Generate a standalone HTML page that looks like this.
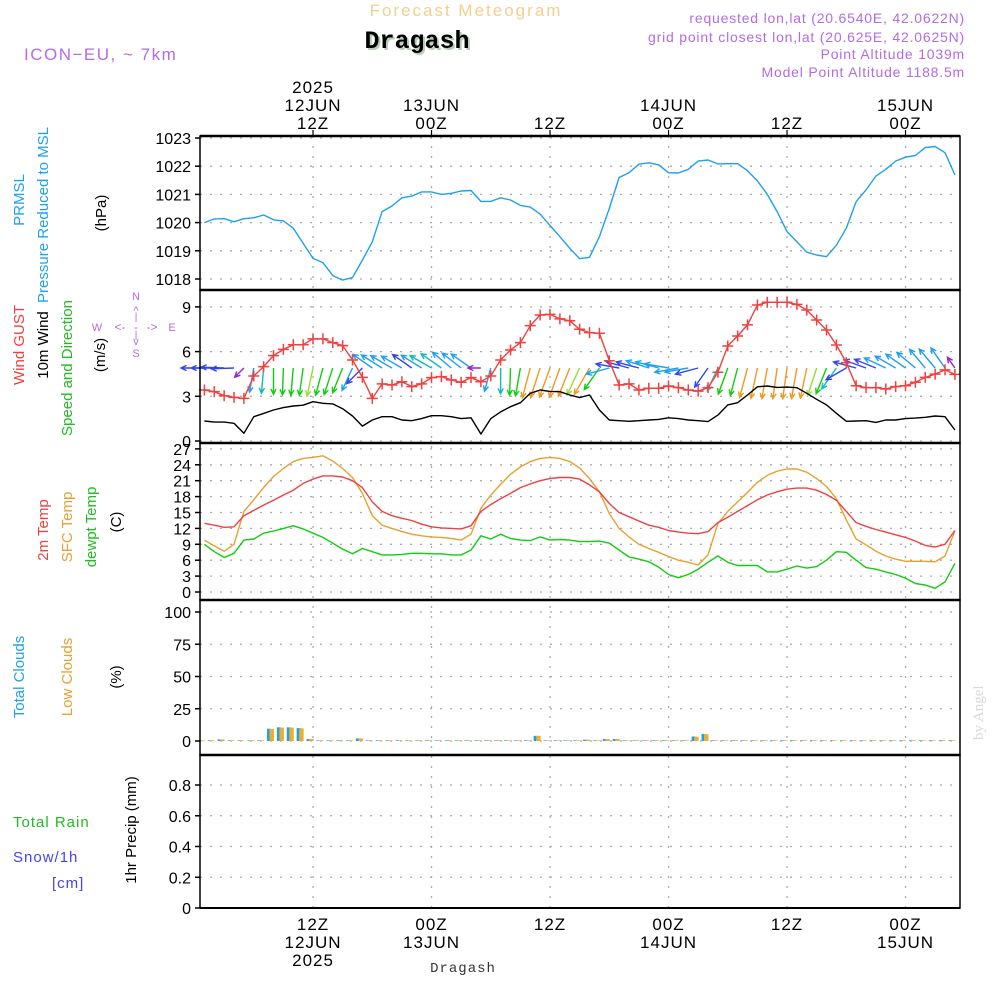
<!DOCTYPE html>
<html><head><meta charset="utf-8"><title>Meteogram Dragash</title>
<style>
html,body{margin:0;padding:0;background:#fff;}
svg{display:block;font-family:"Liberation Sans",sans-serif;}
</style></head>
<body>
<svg id="chart" width="1000" height="1000" viewBox="0 0 1000 1000" xmlns="http://www.w3.org/2000/svg">
<rect x="0" y="0" width="1000" height="1000" fill="#fff"/>
<text x="466" y="16" text-anchor="middle" font-size="17" fill="#f3cf8f" letter-spacing="2">Forecast Meteogram</text>
<text x="419" y="50" text-anchor="middle" font-size="25" font-weight="bold" fill="#b8ccb8" font-family="Liberation Mono, monospace">Dragash</text>
<text x="417" y="48" text-anchor="middle" font-size="25" font-weight="bold" fill="#000" font-family="Liberation Mono, monospace">Dragash</text>
<text x="24" y="60" font-size="17" fill="#b36be6" letter-spacing="1.5">ICON−EU, ~ 7km</text>
<g font-size="14" fill="#b36be6" text-anchor="end" letter-spacing="0.8">
<text x="965" y="23">requested lon,lat (20.6540E, 42.0622N)</text>
<text x="965" y="42">grid point closest lon,lat (20.625E, 42.0625N)</text>
<text x="965" y="59">Point Altitude 1039m</text>
<text x="965" y="77">Model Point Altitude 1188.5m</text>
</g>
<text transform="translate(983,740) rotate(-90)" font-size="15" fill="#d8d8d8" font-family="Liberation Serif, serif">by Angel</text>
<g id="grid"></g>
<g id="marks"></g>
<g id="axes"></g>
<g id="labels" font-size="15">
<text transform="translate(24,200) rotate(-90)" text-anchor="middle" fill="#1ea0f0">PRMSL</text>
<text transform="translate(48,215) rotate(-90)" text-anchor="middle" fill="#1ea0f0">Pressure Reduced to MSL</text>
<text transform="translate(106,213) rotate(-90)" text-anchor="middle" fill="#000">(hPa)</text>
<text transform="translate(24,345) rotate(-90)" text-anchor="middle" fill="#f04040">Wind GUST</text>
<text transform="translate(48,345) rotate(-90)" text-anchor="middle" fill="#000">10m Wind</text>
<text transform="translate(72,368) rotate(-90)" text-anchor="middle" fill="#22bb22">Speed and Direction</text>
<text transform="translate(105,355) rotate(-90)" text-anchor="middle" fill="#000">(m/s)</text>
<g fill="#b36be6" font-size="11" text-anchor="middle">
<text x="136" y="300">N</text><text x="136" y="357">S</text><text x="97" y="331">W</text><text x="172" y="331">E</text>
<text x="120" y="331" font-size="12">&lt;-</text><text x="152" y="331" font-size="12">-&gt;</text>
<text x="136" y="314" font-size="11">^</text><text x="136" y="320" font-size="10">|</text>
<text x="136" y="345" font-size="11">v</text><text x="136" y="338" font-size="10">|</text>
<text x="136" y="331" font-size="12">-</text>
</g>
<text transform="translate(48,530) rotate(-90)" text-anchor="middle" fill="#f04040">2m Temp</text>
<text transform="translate(72,527) rotate(-90)" text-anchor="middle" fill="#e8a030">SFC Temp</text>
<text transform="translate(96,527) rotate(-90)" text-anchor="middle" fill="#22bb22">dewpt Temp</text>
<text transform="translate(121,522) rotate(-90)" text-anchor="middle" fill="#000">(C)</text>
<text transform="translate(24,677) rotate(-90)" text-anchor="middle" fill="#1ea0f0">Total Clouds</text>
<text transform="translate(72,677) rotate(-90)" text-anchor="middle" fill="#e8a030">Low Clouds</text>
<text transform="translate(121,677) rotate(-90)" text-anchor="middle" fill="#000">(%)</text>
<text x="13" y="827" fill="#22bb22" letter-spacing="1">Total  Rain</text>
<text x="13" y="862" fill="#4444ee" letter-spacing="1">Snow/1h</text>
<text x="52" y="888" fill="#4444ee" letter-spacing="1">[cm]</text>
<text transform="translate(136,830) rotate(-90)" text-anchor="middle" fill="#000">1hr Precip (mm)</text>
<text x="463" y="972" text-anchor="middle" font-size="14" fill="#333" font-family="Liberation Mono, monospace" letter-spacing="1">Dragash</text>
</g>
</svg>
<script>
const pressure = [1020.0,1020.13,1020.14,1020.03,1020.14,1020.17,1020.27,1020.1,1020.06,1019.8,1019.27,1018.73,1018.58,1018.12,1017.96,1018.05,1018.67,1019.32,1020.39,1020.59,1020.88,1020.94,1021.09,1021.09,1021.0,1021.04,1021.12,1021.14,1020.75,1020.75,1020.88,1020.8,1020.61,1020.55,1020.3,1019.9,1019.5,1019.09,1018.72,1018.77,1019.5,1020.5,1021.6,1021.77,1022.07,1022.12,1022.05,1021.77,1021.76,1021.89,1022.18,1022.22,1022.08,1022.09,1022.09,1021.84,1021.48,1021.0,1020.39,1019.68,1019.32,1018.95,1018.85,1018.79,1019.2,1019.8,1020.74,1021.16,1021.65,1021.89,1022.18,1022.32,1022.38,1022.66,1022.7,1022.48,1021.69];
const wind10m = [1.34,1.27,1.27,1.19,0.52,1.63,1.85,2.08,2.24,2.35,2.40,2.64,2.53,2.49,2.17,1.68,1.0,1.41,1.63,1.63,1.41,1.36,1.5,1.7,1.7,1.63,1.5,1.56,0.47,1.5,1.95,2.3,2.57,3.2,3.42,3.33,3.31,3.09,2.91,3.09,2.08,1.41,1.36,1.32,1.36,1.41,1.45,1.56,1.5,1.41,1.36,1.3,1.74,2.42,2.57,3.09,3.64,3.69,3.6,3.62,3.58,3.2,2.8,2.42,1.86,1.32,1.34,1.36,1.25,1.41,1.41,1.5,1.54,1.59,1.68,1.63,0.74];
const windGust = [3.42,3.31,3.04,2.93,2.86,4.36,4.99,5.73,6.15,6.46,6.46,6.85,6.85,6.6,6.4,5.44,4.27,2.86,3.83,3.76,3.98,3.65,3.83,4.25,4.32,4.1,3.94,4.25,3.98,4.36,5.44,6.11,6.6,7.74,8.46,8.5,8.2,8.07,7.5,7.27,7.23,5.39,3.76,3.83,3.42,3.54,3.54,3.69,3.58,3.42,3.35,3.58,4.61,6.38,7.05,7.79,9.13,9.31,9.31,9.31,9.17,8.79,8.12,7.45,6.44,5.26,3.71,3.58,3.58,3.49,3.65,3.71,3.94,4.27,4.49,4.77,4.47];
const windDir = [90,90,92,88,45,10,5,0,2,5,8,12,15,18,22,25,45,125,122,120,120,125,122,120,125,130,128,125,90,15,0,2,10,15,18,20,20,22,25,30,35,75,100,105,105,108,105,100,80,80,75,35,25,20,15,15,12,10,8,8,10,12,18,22,35,60,105,110,112,115,120,125,130,140,140,145,145];
const temp2m = [12.96,12.6,12.2,12.3,14.4,15.4,16.4,17.3,18.3,19.2,20.5,21.3,21.9,21.9,21.7,21.0,19.7,17.0,15.2,14.4,13.9,13.5,12.8,12.3,12.1,12.0,11.9,12.5,15.2,16.5,17.6,18.6,19.7,20.4,21.0,21.4,21.6,21.6,21.3,20.2,18.9,16.7,15.0,14.2,13.4,12.6,12.2,11.6,11.3,11.1,11.0,11.4,13.1,14.1,15.2,16.3,17.4,18.3,18.9,19.4,19.6,19.6,19.2,18.4,17.3,15.2,13.1,12.4,11.8,11.3,10.8,10.3,9.6,8.8,8.5,9.0,11.6];
const tempSfc = [9.8,8.7,7.7,9.0,15.2,17.4,19.7,21.8,23.3,24.6,25.2,25.4,25.7,24.7,23.3,21.6,18.6,14.4,12.6,12.0,11.4,10.9,10.6,10.4,10.3,10.1,9.8,10.9,15.8,18.3,20.3,22.2,23.6,24.6,25.2,25.4,25.2,24.6,23.4,21.4,18.9,14.8,12.0,10.4,9.0,8.2,7.5,6.7,6.0,5.6,5.1,7.0,12.9,15.2,17.0,18.8,20.7,22.0,22.8,23.2,23.2,22.6,21.4,19.9,17.6,13.6,10.0,8.9,7.7,6.8,6.2,5.8,5.8,5.8,5.7,6.8,11.5];
const dewpoint = [9.0,7.6,6.5,7.3,9.8,10.0,11.1,11.5,12.0,12.5,11.9,11.1,10.3,9.2,8.1,7.2,8.2,7.6,7.0,7.0,7.1,7.3,7.3,7.2,7.2,7.0,7.0,7.9,10.6,10.0,10.9,10.1,9.8,9.7,10.4,9.8,9.9,9.8,9.5,9.5,9.6,9.2,7.9,6.6,6.2,5.7,4.7,3.3,2.7,3.3,4.3,5.6,6.8,5.6,5.0,5.0,5.0,3.8,3.8,4.3,4.9,4.5,4.8,6.0,7.6,7.5,6.0,4.6,4.3,3.8,3.3,2.6,1.6,1.3,0.7,1.9,5.4];
const cloudTotal = [0.5,0.5,1.2,0.5,0.5,0.5,0.5,9.5,10.6,10.6,10,1.5,0.5,0.5,0.5,0.5,2,0.5,0.5,0.5,0.5,0.5,0.5,0.5,0.5,0.5,0.5,0.5,0.5,0.5,0.5,0.5,0.5,0.5,4,0.5,0.5,0.5,0.5,1,0.5,1.5,1.5,0.5,0.5,0.5,0.5,0.5,0.5,0.5,3.5,5.5,0.5,0.5,0.5,0.5,0.5,0.5,0.5,0.5,0.5,0.5,0.5,0.5,0.5,0.5,0.5,0.5,0.5,0.5,0.5,0.5,0.5,0.5,0.5,0.5,0.5];
const cloudLow = [0.5,0.5,1.2,0.5,0.5,0.5,0.5,9.3,10.4,10.4,9.8,1.5,0.5,0.5,0.5,0.5,2,0.5,0.5,0.5,0.5,0.5,0.5,0.5,0.5,0.5,0.5,0.5,0.5,0.5,0.5,0.5,0.5,0.5,4,0.5,0.5,0.5,0.5,1,0.5,1.5,1.5,0.5,0.5,0.5,0.5,0.5,0.5,0.5,3.3,5.3,0.5,0.5,0.5,0.5,0.5,0.5,0.5,0.5,0.5,0.5,0.5,0.5,0.5,0.5,0.5,0.5,0.5,0.5,0.5,0.5,0.5,0.5,0.5,0.5,0.5];
const precip = new Array(77).fill(0);
const pressureTicks = [1018,1019,1020,1021,1022,1023];
const windTicks = [0,3,6,9];
const tempTicks = [0,3,6,9,12,15,18,21,24,27];
const cloudTicks = [0,25,50,75,100];
const precipTicks = [0,0.2,0.4,0.6,0.8];
const timeHours = [11,23,35,47,59,71];
const topLabels = [["2025","12JUN","12Z"],["","13JUN","00Z"],["","","12Z"],["","14JUN","00Z"],["","","12Z"],["","15JUN","00Z"]];
const bottomLabels = [["12Z","12JUN","2025"],["00Z","13JUN",""],["12Z","",""],["00Z","14JUN",""],["12Z","",""],["00Z","15JUN",""]];

const NS = "http://www.w3.org/2000/svg";
const X0 = 200, X1 = 960;
const xAt = i => 204.4 + 9.875 * i;
const yP = v => 279 - (v - 1018) * 28.2;
const yW = v => 441 - v * 14.9;
const yT = v => 592 - v * 5.3;
const yC = v => 741 - v * 1.29;
const yR = v => 908 - v * 153.75;
const panels = [[136,290],[290,443],[443,600],[600,755],[755,908]];

function mk(parent, tag, attrs, txt) {
  const e = document.createElementNS(NS, tag);
  for (const k in attrs) e.setAttribute(k, attrs[k]);
  if (txt !== undefined) e.textContent = txt;
  document.getElementById(parent).appendChild(e);
  return e;
}
let el;

const gridStyle = {stroke:"#aaa", "stroke-width":1.3, "stroke-dasharray":"2 8"};
timeHours.forEach(h => {
  el = mk("grid","line",Object.assign({x1:xAt(h),x2:xAt(h),y1:136,y2:908},gridStyle));
  
  
});
function hgrid(ticks, yf, fmt) {
  ticks.forEach(t => {
    el = mk("grid","line",Object.assign({x1:X0,x2:X1,y1:yf(t),y2:yf(t)},gridStyle));
    
    
    el = mk("axes","line",{x1:X0-5,x2:X0,y1:yf(t),y2:yf(t),stroke:"#000","stroke-width":1.5});
    
    
    el = mk("axes","text",{x:X0-9,y:yf(t)+6,"text-anchor":"end","font-size":16,fill:"#000"}, fmt(t));
    
    
  });
}
hgrid(pressureTicks, yP, t => String(t));
hgrid(windTicks, yW, t => String(t));
hgrid(tempTicks, yT, t => String(t));
hgrid(cloudTicks, yC, t => String(t));
hgrid(precipTicks, yR, t => t === 0 ? "0" : t.toFixed(1));

panels.forEach(p => {
  el = mk("axes","rect",{x:X0,y:p[0],width:X1-X0,height:p[1]-p[0],fill:"none",stroke:"#000","stroke-width":1.5});
  
  
  el = mk("axes","line",{x1:X0,x2:X1,y1:p[0],y2:p[0],stroke:"#000","stroke-width":2.5});
  
  
});
el = mk("axes","line",{x1:X0,x2:X1,y1:908,y2:908,stroke:"#000","stroke-width":2});


timeHours.forEach((h, k) => {
  el = mk("axes","line",{x1:xAt(h),x2:xAt(h),y1:130,y2:136,stroke:"#000","stroke-width":1.2});
  
  
  topLabels[k].forEach((s, j) => {
    if (!s) return;
    el = mk("axes","text",{x:xAt(h),y:93+j*18,"text-anchor":"middle","font-size":17,fill:"#000","letter-spacing":"1"}, s);
    
    
  });
  bottomLabels[k].forEach((s, j) => {
    if (!s) return;
    el = mk("axes","text",{x:xAt(h),y:930+j*18,"text-anchor":"middle","font-size":17,fill:"#000","letter-spacing":"1"}, s);
    
    
  });
});

function line(arr, yf, color, w) {
  const pts = arr.map((v,i) => xAt(i).toFixed(1)+","+yf(v).toFixed(1)).join(" ");
  return mk("marks","polyline",{points:pts,fill:"none",stroke:color,"stroke-width":w||1.4,"stroke-linejoin":"round"});
}
el = line(pressure, yP, "#1ea0f0");



cloudTotal.forEach((v,i) => {
  const cx = xAt(i) - 3;
  el = mk("marks","rect",{x:cx-3.5,y:yC(v),width:4,height:741-yC(v),fill:"#1ea0f0"});
  
  
  el = mk("marks","rect",{x:cx-1,y:yC(cloudLow[i]),width:4.5,height:741-yC(cloudLow[i]),fill:"#e8b030"});
  
  
});

function windColor(s) {
  if (s < 1) return "#9922cc";
  if (s < 1.4) return "#3344ee";
  if (s < 1.7) return "#1ea0f0";
  if (s < 2.0) return "#11bbbb";
  if (s < 2.6) return "#11cc11";
  if (s < 3.0) return "#99dd33";
  return "#ee9922";
}
windDir.forEach((d,i) => {
  const s = wind10m[i];
  const len = s < 1 ? 13 : Math.min(31, 18 + 4 * s);
  const th = (d + 180) * Math.PI / 180;
  const x0 = xAt(i), y0 = 368;
  const x1 = x0 + len * Math.sin(th), y1 = y0 - len * Math.cos(th);
  const ang = Math.atan2(y1 - y0, x1 - x0);
  const h = 6, a = 0.45;
  const p1x = x1 - h*Math.cos(ang - a), p1y = y1 - h*Math.sin(ang - a);
  const p2x = x1 - h*Math.cos(ang + a), p2y = y1 - h*Math.sin(ang + a);
  el = mk("marks","path",{d:`M${x0},${y0}L${x1},${y1}M${p1x},${p1y}L${x1},${y1}L${p2x},${p2y}`,stroke:windColor(s),"stroke-width":1.4,fill:"none"});
  
  
});

el = line(wind10m, yW, "#000");


el = line(windGust, yW, "#f04040");


windGust.forEach((v,i) => {
  const x = xAt(i), y = yW(v);
  el = mk("marks","path",{d:`M${x-5.5},${y}H${x+5.5}M${x},${y-5.5}V${y+5.5}`,stroke:"#f04040","stroke-width":1.5});
  
  
});

el = line(tempSfc, yT, "#e8a030");


el = line(temp2m, yT, "#f04040");


el = line(dewpoint, yT, "#11cc11");



el = mk("marks","polyline",{points:precip.map((v,i)=>xAt(i)+","+yR(v)).join(" "),fill:"none",stroke:"#333","stroke-width":1.5,"stroke-dasharray":"6 3"});


</script>
</body></html>
